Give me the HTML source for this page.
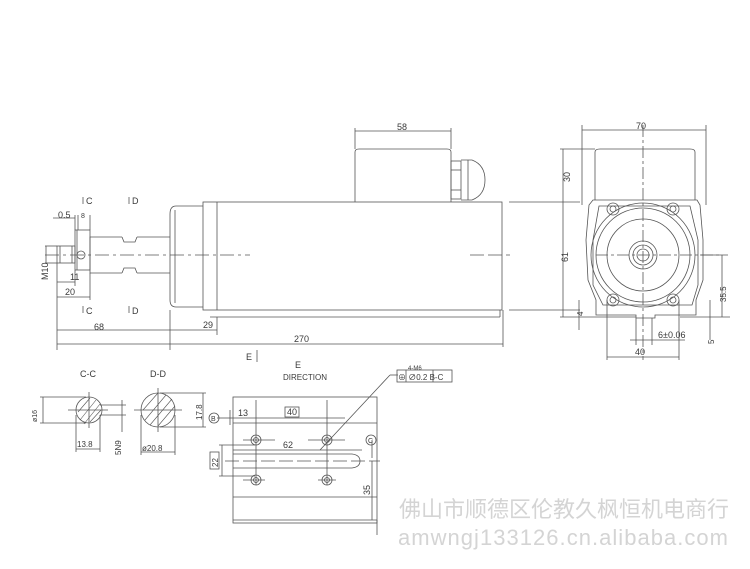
<!DOCTYPE html>
<html><head><meta charset="utf-8"><style>
html,body{margin:0;padding:0;background:#fff;}
svg{display:block}
text{font-family:"Liberation Sans","Noto Sans CJK SC",sans-serif;fill:#3a3a3a}
</style></head><body>
<svg width="750" height="569" viewBox="0 0 750 569" xmlns="http://www.w3.org/2000/svg">
<g stroke="#555" stroke-width="0.8" fill="none">
<!-- main body -->
<rect x="203" y="202" width="299" height="108"/>
<line x1="217" y1="202" x2="217" y2="310"/>
<line x1="210" y1="317" x2="500" y2="317"/>
<line x1="500" y1="310" x2="500" y2="317"/>
<!-- flange -->
<path d="M203 206 H176 Q170 206 170 214 V300 Q170 307 176 307 H203"/>
<line x1="175" y1="210" x2="175" y2="303"/>
<!-- shaft -->
<path d="M170 237 H137 M122 237 H90 V273 H122 M137 273 H170"/>
<path d="M137 237 L135 242 H124 L122 237 M137 273 L135 268 H124 L122 273"/>
<!-- collar -->
<rect x="75" y="230" width="15" height="40"/>
<line x1="77" y1="230" x2="77" y2="270"/>
<circle cx="81" cy="255" r="4"/>
<!-- nut -->
<rect x="57" y="246" width="18" height="17"/>
<line x1="60" y1="246" x2="60" y2="263"/><line x1="72" y1="246" x2="72" y2="263"/>
<!-- terminal box -->
<path d="M355 202 V152 Q355 149 359 149 H447 Q451 149 451 152 V202"/>
<rect x="451" y="161" width="10" height="38"/>
<line x1="451" y1="170" x2="461" y2="170"/><line x1="451" y1="190" x2="461" y2="190"/>
<path d="M461 160 H472 Q485 165 485 180 Q485 195 472 200 H461"/>
<line x1="468" y1="160" x2="468" y2="200"/>
<!-- centerline -->
<line x1="45" y1="255" x2="250" y2="255" stroke-dasharray="14,4,3,4"/>
<line x1="470" y1="255" x2="510" y2="255" stroke-dasharray="14,4"/>
<!-- dims main -->
<line x1="355" y1="149" x2="355" y2="128"/><line x1="451" y1="149" x2="451" y2="128"/>
<line x1="355" y1="131" x2="451" y2="131"/>
<line x1="57" y1="263" x2="57" y2="350"/>
<line x1="170" y1="310" x2="170" y2="350"/>
<line x1="217" y1="317" x2="217" y2="335"/>
<line x1="503" y1="310" x2="503" y2="347"/>
<line x1="57" y1="330" x2="217" y2="330"/>
<line x1="57" y1="344" x2="503" y2="344"/>
<line x1="57" y1="282" x2="75" y2="282"/><line x1="75" y1="270" x2="75" y2="286"/>
<line x1="57" y1="297" x2="90" y2="297"/><line x1="90" y1="273" x2="90" y2="300"/>
<line x1="53" y1="218" x2="75" y2="218"/><line x1="75" y1="215" x2="75" y2="230"/>
<line x1="78" y1="215" x2="78" y2="230"/><line x1="90" y1="215" x2="90" y2="230"/>
<line x1="45" y1="246" x2="57" y2="246"/><line x1="45" y1="263" x2="57" y2="263"/>
<line x1="46" y1="246" x2="46" y2="263"/>
<line x1="83" y1="197" x2="83" y2="204"/><line x1="129" y1="197" x2="129" y2="204"/>
<line x1="83" y1="306" x2="83" y2="313"/><line x1="129" y1="306" x2="129" y2="313"/>
<line x1="509" y1="202" x2="580" y2="202"/><line x1="509" y1="310" x2="580" y2="310"/>
<!-- E arrow -->
<line x1="257" y1="350" x2="257" y2="362"/>
<!-- right view -->
<line x1="582" y1="125" x2="582" y2="205"/><line x1="706" y1="125" x2="706" y2="205"/>
<line x1="582" y1="130" x2="706" y2="130"/>
<path d="M595 200 V152 Q595 149 600 149 H690 Q695 149 695 152 V200"/>
<line x1="643" y1="125" x2="643" y2="360" stroke-dasharray="12,3,3,3"/>
<line x1="596" y1="255" x2="720" y2="255" stroke-dasharray="12,3,3,3"/>
<path d="M593 200 H697 L700 205 L703 240 L703 280 L696 300 L696 315 H655 V318 H636 V315 H596 V300 L588 280 L586 240 L589 205 Z"/>
<path d="M599 206 H690 L698 240 V285 L692 305 H603 L593 285 V240 Z"/>
<circle cx="643" cy="255" r="52"/><circle cx="643" cy="255" r="47"/>
<circle cx="643" cy="255" r="36"/>
<circle cx="643" cy="255" r="14"/><circle cx="643" cy="255" r="10"/><circle cx="643" cy="255" r="6"/>
<circle cx="613" cy="209" r="6"/><circle cx="613" cy="209" r="3"/>
<circle cx="673" cy="209" r="6"/><circle cx="673" cy="209" r="3"/>
<circle cx="613" cy="300" r="6"/><circle cx="613" cy="300" r="3"/>
<circle cx="673" cy="300" r="6"/><circle cx="673" cy="300" r="3"/>
<line x1="560" y1="149" x2="595" y2="149"/>
<line x1="563" y1="149" x2="563" y2="317"/>
<line x1="560" y1="317" x2="636" y2="317"/>
<line x1="579" y1="300" x2="579" y2="330"/>
<line x1="722" y1="255" x2="722" y2="317"/><line x1="700" y1="255" x2="728" y2="255"/>
<line x1="680" y1="317" x2="730" y2="317"/>
<line x1="710" y1="300" x2="710" y2="340"/>
<line x1="630" y1="340" x2="685" y2="340"/>
<line x1="636" y1="318" x2="636" y2="345"/><line x1="652" y1="318" x2="652" y2="345"/>
<line x1="607" y1="300" x2="607" y2="360"/><line x1="679" y1="300" x2="679" y2="360"/>
<line x1="607" y1="357" x2="679" y2="357"/>
<!-- section C-C -->
<circle cx="89" cy="410" r="13"/>
<line x1="89" y1="392" x2="89" y2="428"/><line x1="68" y1="410" x2="108" y2="410"/>
<line x1="100" y1="405" x2="126" y2="405"/><line x1="100" y1="415" x2="126" y2="415"/>
<line x1="40" y1="397" x2="86" y2="397"/><line x1="40" y1="423" x2="86" y2="423"/>
<line x1="43" y1="397" x2="43" y2="423"/>
<line x1="76" y1="415" x2="76" y2="452"/><line x1="100" y1="415" x2="100" y2="452"/>
<line x1="76" y1="449" x2="100" y2="449"/>
<line x1="122" y1="400" x2="122" y2="432"/>
<!-- D-D -->
<circle cx="158" cy="410" r="17"/>
<line x1="158" y1="388" x2="158" y2="432"/><line x1="134" y1="410" x2="182" y2="410"/>
<line x1="160" y1="393" x2="206" y2="393"/><line x1="160" y1="427" x2="206" y2="427"/>
<line x1="203" y1="393" x2="203" y2="427"/>
<line x1="141" y1="415" x2="141" y2="455"/><line x1="175" y1="415" x2="175" y2="455"/>
<line x1="141" y1="452" x2="175" y2="452"/>
<path d="M80 420 L96 400 M84 424 L100 404 M78 412 L90 398 M90 422 L101 410" stroke-width="0.6"/>
<path d="M145 420 L166 395 M150 425 L172 399 M143 410 L158 393 M158 426 L175 406" stroke-width="0.6"/>
<!-- E plate -->
<rect x="233" y="397" width="144" height="126"/>
<line x1="233" y1="423" x2="377" y2="423"/>
<line x1="233" y1="497" x2="377" y2="497"/>
<line x1="233" y1="520" x2="377" y2="520"/>
<circle cx="256" cy="440" r="5"/><circle cx="256" cy="440" r="2.5"/>
<circle cx="327" cy="440" r="5"/><circle cx="327" cy="440" r="2.5"/>
<circle cx="256" cy="480" r="5"/><circle cx="256" cy="480" r="2.5"/>
<circle cx="327" cy="480" r="5"/><circle cx="327" cy="480" r="2.5"/>
<line x1="256" y1="400" x2="256" y2="485"/><line x1="327" y1="400" x2="327" y2="485"/>
<line x1="243" y1="440" x2="275" y2="440"/><line x1="308" y1="440" x2="345" y2="440"/>
<line x1="243" y1="480" x2="265" y2="480"/><line x1="318" y1="480" x2="336" y2="480"/>
<path d="M233 454 H352 Q360 455 360 461 Q360 467 352 468 H233"/>
<line x1="225" y1="461" x2="380" y2="461" stroke-dasharray="14,4"/>
<line x1="232" y1="418" x2="345" y2="418"/>
<line x1="233" y1="450" x2="362" y2="450"/>
<line x1="219" y1="445" x2="255" y2="445"/><line x1="219" y1="476" x2="255" y2="476"/>
<line x1="222" y1="445" x2="222" y2="476"/>
<line x1="372" y1="461" x2="372" y2="520"/><line x1="372" y1="440" x2="372" y2="458"/>
<line x1="377" y1="520" x2="377" y2="535"/>
<line x1="217" y1="418" x2="232" y2="418"/><line x1="230" y1="410" x2="230" y2="425"/>
<line x1="320" y1="450" x2="390" y2="375"/><line x1="390" y1="375" x2="398" y2="375"/>
<rect x="397" y="370" width="55" height="12"/>
<line x1="406" y1="370" x2="406" y2="382"/><line x1="433" y1="370" x2="433" y2="382"/>
<rect x="285" y="407" width="14" height="10"/>
<rect x="210" y="452" width="9" height="17"/>
<circle cx="214" cy="418" r="5"/><circle cx="371" cy="440" r="5"/>
</g>
<g font-size="9">
<text x="397" y="130">58</text>
<text x="636" y="129">70</text>
<text x="94" y="330">68</text>
<text x="203" y="328">29</text>
<text x="294" y="342">270</text>
<text x="70" y="280">11</text>
<text x="65" y="295">20</text>
<text x="58" y="218">0.5</text>
<text x="81" y="218" font-size="7">8</text>
<text x="86" y="204">C</text><text x="132" y="204">D</text>
<text x="86" y="314">C</text><text x="132" y="314">D</text>
<text transform="translate(48,280) rotate(-90)">M10</text>
<text transform="translate(570,182) rotate(-90)">30</text>
<text transform="translate(568,262) rotate(-90)">61</text>
<text transform="translate(583,316) rotate(-90)" font-size="8">4</text>
<text transform="translate(726,302) rotate(-90)" font-size="8">35.5</text>
<text transform="translate(714,344) rotate(-90)" font-size="8">5</text>
<text x="658" y="338">6±0.06</text>
<text x="635" y="355">40</text>
<text x="246" y="360">E</text>
<text x="295" y="368" font-family="Liberation Serif">E</text>
<text x="283" y="380" font-family="Liberation Serif" font-size="8">DIRECTION</text>
<text x="408" y="370" font-size="6">4-M6</text>
<text x="398" y="380" font-size="8">⊕ ∅0.2 B-C</text>
<text x="80" y="377">C-C</text><text x="150" y="377">D-D</text>
<text transform="translate(37,422) rotate(-90)" font-size="7">ø16</text>
<text x="77" y="447" font-size="8">13.8</text>
<text transform="translate(121,455) rotate(-90)" font-size="8">5N9</text>
<text x="142" y="451" font-size="8">ø20.8</text>
<text transform="translate(202,420) rotate(-90)" font-size="8">17.8</text>
<text x="211" y="421" font-size="7">B</text><text x="368" y="443" font-size="7">C</text>
<text x="238" y="416">13</text>
<text x="287" y="415">40</text>
<text x="283" y="448">62</text>
<text transform="translate(218,467) rotate(-90)" font-size="8">22</text>
<text transform="translate(370,495) rotate(-90)">35</text>
</g>
<text x="399" y="517" font-size="22" style="fill:#d4d4d4" font-family="'Noto Sans CJK SC',sans-serif">佛山市顺德区伦教久枫恒机电商行</text>
<text x="398" y="545" font-size="22" style="fill:#d4d4d4" textLength="330">amwngj133126.cn.alibaba.com</text>
</svg>
</body></html>
